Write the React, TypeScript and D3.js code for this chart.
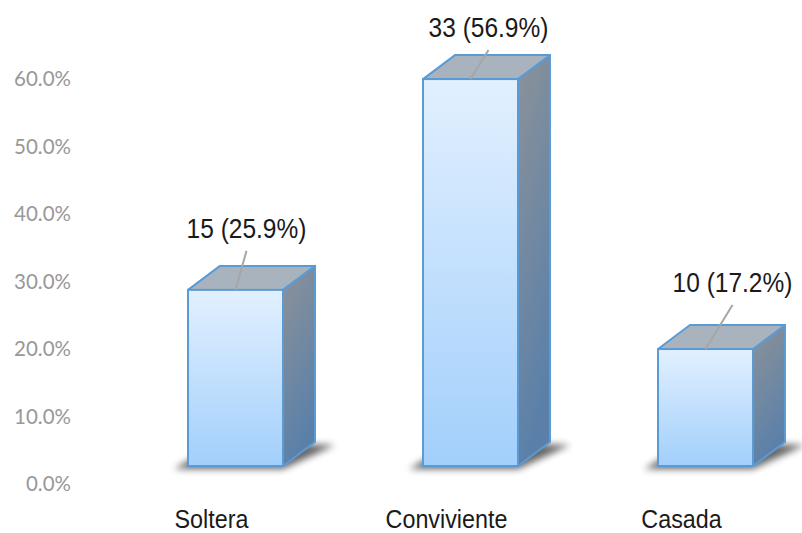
import React from "react";
import * as d3 from "d3";

const categories = ["Soltera", "Conviviente", "Casada"];
const counts = [15, 33, 10];
const percents = [25.9, 56.9, 17.2];
const yTicks = [0, 10, 20, 30, 40, 50, 60];

// layout constants (label anchor offsets relative to bar front-top centre)
const LABEL_ANCHOR = [
  { dx: 11, dy: -39 },
  { dx: 18, dy: -29 },
  { dx: 27, dy: -44 },
];

export default function App() {
  const W = 802, H = 533;
  const x = d3.scaleBand<string>().domain(categories).range([118, 823])
    .paddingInner(140 / 235).paddingOuter(70 / 235);
  const y = d3.scaleLinear().domain([0, 60]).range([466, 466 - 6.8 * 60]);
  const yAxis = d3.scaleLinear().domain([0, 60]).range([491, 86]);
  const DX = 32, DY = 24;
  const bw = x.bandwidth();
  const fmt = (v: number) => d3.format(".1f")(v) + "%";

  return (
    <svg width={W} height={H} style={{ position: "absolute", left: 0, top: 0, background: "#fff" }}
      fontFamily="'Liberation Sans', Arial, sans-serif">
      <defs>
        <linearGradient id="front" x1="0" y1="0" x2="0" y2="1">
          <stop offset="0" stopColor="#e2f0ff" />
          <stop offset="1" stopColor="#a2cffb" />
        </linearGradient>
        <linearGradient id="side" x1="0" y1="0" x2="0.3" y2="1">
          <stop offset="0" stopColor="#8c9299" />
          <stop offset="1" stopColor="#5a80a9" />
        </linearGradient>
        <filter id="blur" x="-50%" y="-50%" width="200%" height="200%">
          <feGaussianBlur stdDeviation="3.5" />
        </filter>
      </defs>

      {yTicks.map((t) => (
        <text key={t} x={71} y={yAxis(t)} textAnchor="end" fill="#989898"
          fontFamily="Lato, 'Open Sans', sans-serif" fontSize={20.5}>
          {fmt(t)}
        </text>
      ))}

      {categories.map((c, i) => {
        const x0 = x(c)!;
        const x1 = x0 + bw;
        const yb = y(0);
        const yt = y(percents[i]);
        const cx = x0 + bw / 2;
        const shadow = [
          [x0 - 14, yb + 3], [x1, yb + 3], [x1 + DX + 20, yb - DY + 3], [x0 + DX, yb - DY],
        ].map((p) => p.join(",")).join(" ");
        const side = [
          [x1, yt], [x1 + DX, yt - DY], [x1 + DX, yb - DY], [x1, yb],
        ].map((p) => p.join(",")).join(" ");
        const top = [
          [x0, yt], [x0 + DX, yt - DY], [x1 + DX, yt - DY], [x1, yt],
        ].map((p) => p.join(",")).join(" ");
        const la = LABEL_ANCHOR[i];
        const lx = cx + la.dx, ly = yt + la.dy;
        return (
          <g key={c}>
            <polygon points={shadow} fill="#000" opacity={0.6} filter="url(#blur)" />
            <polygon points={side} fill="url(#side)" stroke="#5b9bd5" strokeWidth={2} strokeLinejoin="round" />
            <polygon points={top} fill="#a8b3be" stroke="#5b9bd5" strokeWidth={2} strokeLinejoin="round" />
            <rect x={x0} y={yt} width={bw} height={yb - yt} fill="url(#front)" stroke="#5b9bd5" strokeWidth={2} />
            <line x1={cx} y1={yt} x2={lx} y2={ly} stroke="#a6a6a6" strokeWidth={2} />
            <text transform={`translate(${lx},${ly - 13}) scale(0.86,1)`} textAnchor="middle"
              fontSize={28.5} fill="#1a1a1a">
              {`${counts[i]} (${percents[i].toFixed(1)}%)`}
            </text>
            <text transform={`translate(${cx - 24},${528}) scale(0.88,1)`} textAnchor="middle"
              fontSize={26.5} fill="#1a1a1a">
              {c}
            </text>
          </g>
        );
      })}
    </svg>
  );
}
